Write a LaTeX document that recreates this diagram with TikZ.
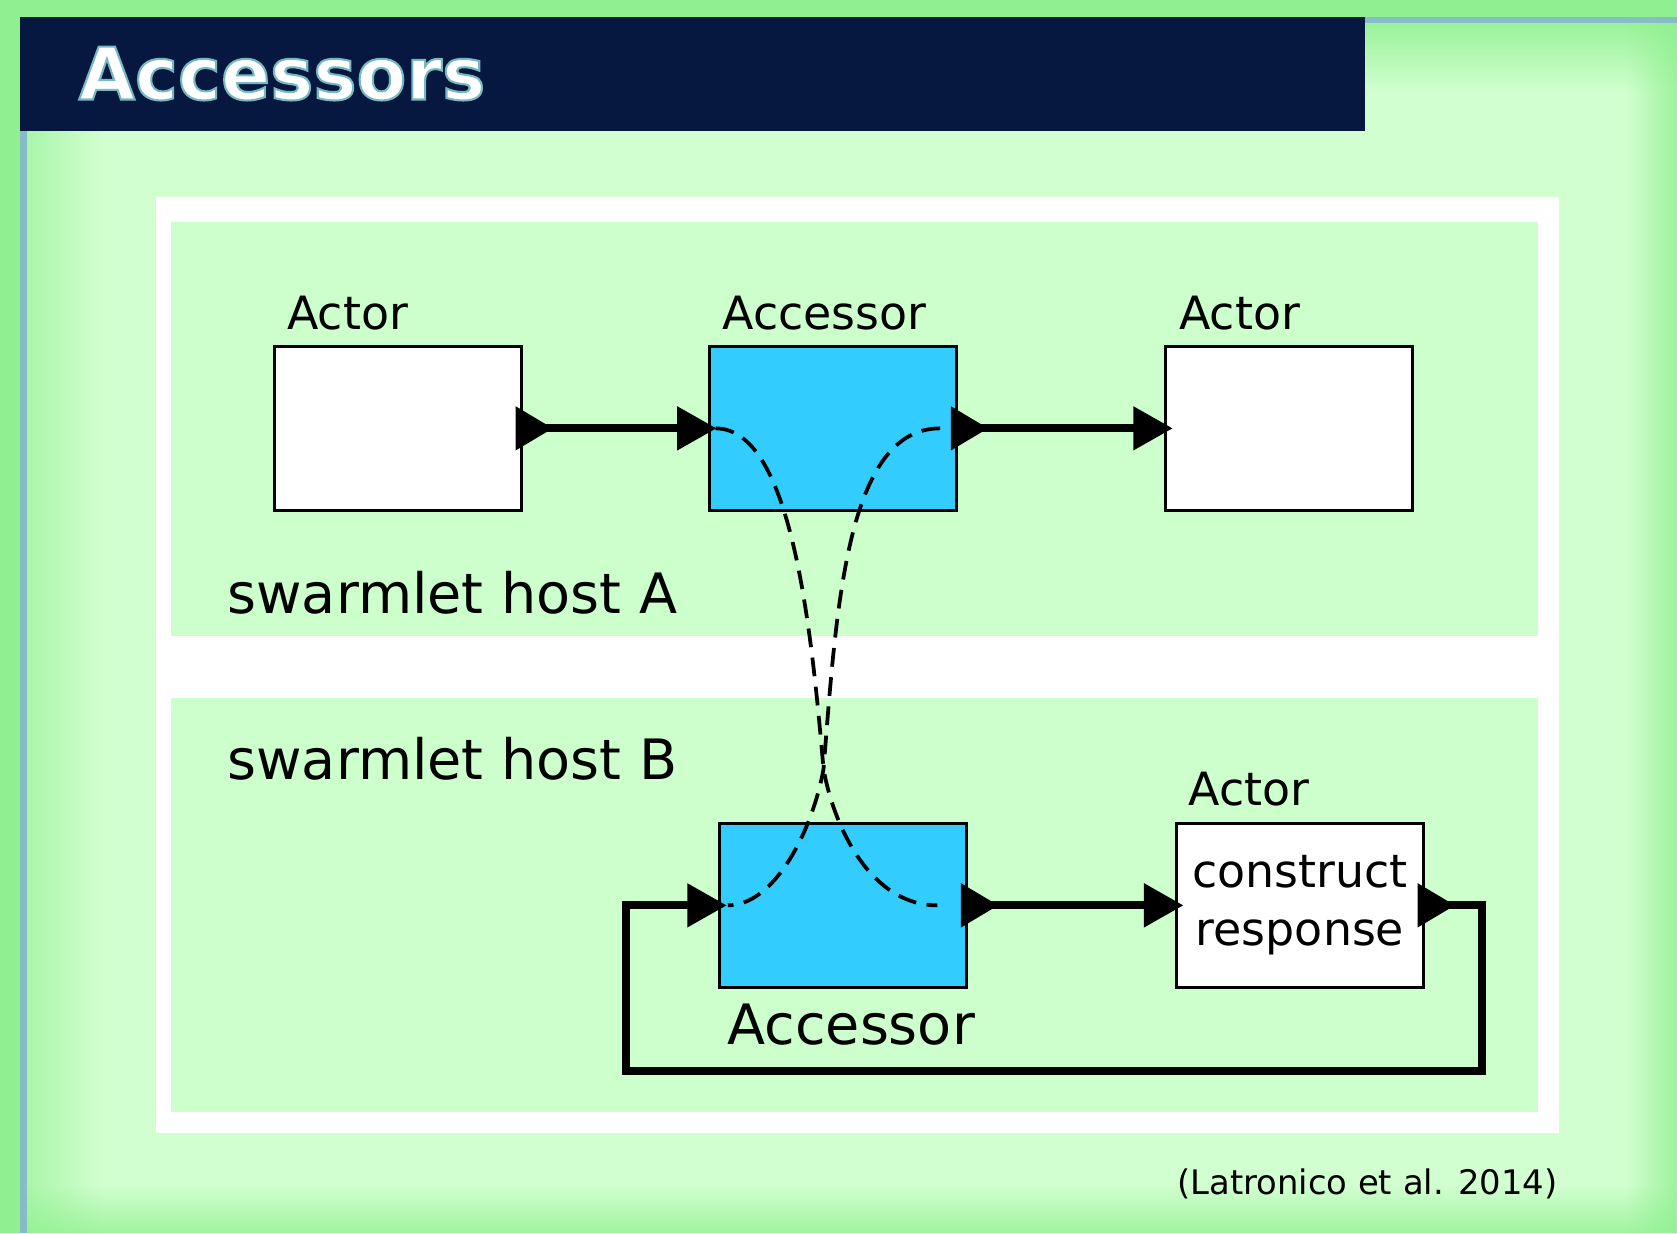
\documentclass[tikz,border=0pt]{standalone}
\usepackage{fontspec}
\setmainfont{DejaVu Sans}
\usepackage{tikz}
\usetikzlibrary{arrows.meta, positioning, calc, fadings}
\definecolor{titlenavy}{RGB}{6, 24, 64}
\definecolor{edgegreen}{RGB}{144, 240, 144}
\definecolor{palegreen}{RGB}{210, 255, 208}
\definecolor{hostgreen}{RGB}{204, 255, 204}
\definecolor{accblue}{RGB}{51, 204, 255}
\definecolor{rulegray}{RGB}{136, 187, 200}
\newcommand{\outlined}[1]{\special{pdf:literal direct 2 Tr 0.55 w 0.47 0.72 0.76 RG}#1\special{pdf:literal direct 0 Tr}}
\tikzfading[name=fadeleft, left color=transparent!0, right color=transparent!100]
\tikzfading[name=faderight, left color=transparent!100, right color=transparent!0]
\tikzfading[name=fadetop, top color=transparent!0, bottom color=transparent!100]
\tikzfading[name=fadebottom, top color=transparent!100, bottom color=transparent!0]
\tikzset{
  actorbox/.style={rectangle, draw=black, fill=#1, line width=0.85pt, minimum width=23.1mm, minimum height=15.3mm, inner sep=0pt},
  boxlabel/.style={anchor=base west, inner sep=0pt, font=\fontsize{12.2}{15.5}\selectfont},
  hostlabel/.style={anchor=base west, inner sep=0pt, font=\fontsize{14.8}{18}\selectfont},
  link/.style={line width=2.1pt, {Triangle[reversed, length=10pt, width=11.2pt]}-{Triangle[length=10.5pt, width=11.2pt]}},
  remote/.style={line width=1pt, dash pattern=on 5pt off 2.8pt},
}

\begin{document}
\begin{tikzpicture}[x=0.1mm, y=-0.1mm]
\useasboundingbox (0,0) rectangle (1568,1153);
% slide background
\fill[edgegreen] (0,0) rectangle (1568,1153);
\fill[palegreen] (25,21) rectangle (1568,1153);
\fill[edgegreen, opacity=0.6, path fading=fadeleft] (25,122) rectangle (95,1153);
\fill[edgegreen, opacity=0.85, path fading=fadetop] (1276,21) rectangle (1568,85);
\fill[edgegreen, opacity=0.8, path fading=faderight] (1520,21) rectangle (1568,1153);
\fill[edgegreen, opacity=0.75, path fading=fadebottom] (25,1108) rectangle (1568,1153);
\fill[rulegray] (18.8,122) rectangle (25,1153);
\fill[rulegray] (1276,15.6) rectangle (1568,21.2);
\fill[titlenavy] (18.8,15.6) rectangle (1276,122.2);
\node[anchor=base west, inner sep=0pt, text=white, font=\bfseries\fontsize{19.3}{23}\selectfont] (title) at (73,93) {\outlined{Accessors}};

% hosts
\fill[white] (146,184) rectangle (1458,1059);
\fill[hostgreen] (160,208) rectangle (1438,595);
\fill[hostgreen] (160,653) rectangle (1438,1040);
\node[hostlabel] (hostA) at (212,574) {swarmlet host A};
\node[hostlabel] (hostB) at (212,729) {swarmlet host B};

% actors and accessors
\node[actorbox=white] (src) at (372,400.5) {};
\node[actorbox=accblue] (accA) at (779,400.5) {};
\node[actorbox=white] (sink) at (1205.5,400.5) {};
\node[actorbox=accblue] (accB) at (788.5,846.5) {};
\node[actorbox=white, align=center, font=\fontsize{12.2}{15.5}\selectfont] (respond) at (1215.5,846.5) {construct\\response};
\node[boxlabel] (srcname) at (268,308) {Actor};
\node[boxlabel] (accAname) at (675,308) {Accessor};
\node[boxlabel] (sinkname) at (1102,308) {Actor};
\node[boxlabel] (respondname) at (1111,753) {Actor};
\node[hostlabel] (accBname) at (679.5,977) {Accessor};

% remote calls
\coordinate (swap) at (770,719);
\draw[remote] ($(accA.west)+(7,0)$) .. controls +(70,0) and (758,580) .. (swap) .. controls (780,775) and (815,846.5) .. ($(accB.east)+(-29,0)$);
\draw[remote] ($(accA.east)+(-17,0)$) .. controls +(-88,0) and (782,570) .. (swap) .. controls (760,775) and (725,846.5) .. ($(accB.west)+(9,0)$);

% connections
\draw[link] ($(src.east)+(-7,0)$) -- ($(accA.west)+(8,0)$);
\draw[link] ($(accA.east)+(-7,0)$) -- ($(sink.west)+(8,0)$);
\draw[link] ($(accB.east)+(-7,0)$) -- ($(respond.west)+(8,0)$);
\coordinate (loopR) at (1386,1001);
\coordinate (loopL) at (585,1001);
\draw[link] ($(respond.east)+(-7,0)$) -| (loopR) -- (loopL) |- ($(accB.west)+(8,0)$);

\node[anchor=base east, inner sep=0pt, font=\fontsize{9}{11}\selectfont] (cite) at (1457,1117) {(Latronico et al. 2014)};
\end{tikzpicture}
\end{document}
